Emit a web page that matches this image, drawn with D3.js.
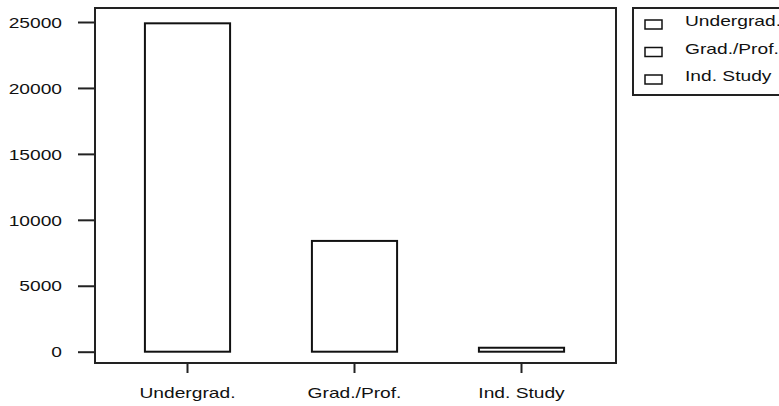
<html>
<head>
  <script src="https://d3js.org/d3.v7.min.js"></script>
  <style>
    body { margin: 0; background: #fff; }
    text { font-family: "Liberation Sans", Arial, sans-serif; font-size: 15px; fill: #111; }
  </style>
</head>
<body>
<svg width=779 height=406></svg>
<script>
const categories = ['Undergrad.', 'Grad./Prof.', 'Ind. Study'];
const values = [24900, 8400, 300];
const yTicks = [0, 5000, 10000, 15000, 20000, 25000];

const svg = d3.select('svg');
const ink = '#222';
const stretch = 'scale(1.28,1)'; // reference font is wide and blocky

// plot frame
const frame = { left: 95, top: 8, right: 616, bottom: 363 };

let x = d3.scaleBand()
  .domain(categories)
  .range([104, 605])
  .paddingInner(0.49)
  .paddingOuter(0.245);

let y = d3.scaleLinear()
  .domain([0, 25000])
  .range([351.7, 22]);

svg.append('rect')
  .attr('x', frame.left).attr('y', frame.top)
  .attr('width', frame.right - frame.left)
  .attr('height', frame.bottom - frame.top)
  .style('fill', 'none').style('stroke', ink).style('stroke-width', 2);

// bars
svg.append('g')
  .selectAll('rect')
  .data(values)
  .join('rect')
  .attr('x', (d, i) => x(categories[i]))
  .attr('y', d => y(d))
  .attr('width', x.bandwidth())
  .attr('height', d => y(0) - y(d))
  .style('fill', 'none')
  .style('stroke', '#111')
  .style('stroke-width', 2);

// y axis, ticks sit left of the frame
let ya = svg.append('g')
  .attr('transform', `translate(${frame.left},0)`)
  .call(d3.axisLeft(y).tickValues(yTicks).tickSize(17).tickFormat(d3.format('d')));
ya.select('.domain').remove();
ya.selectAll('line').style('stroke', ink).style('stroke-width', 2);
ya.selectAll('text')
  .attr('x', 0).attr('dy', null)
  .attr('dominant-baseline', 'central')
  .attr('transform', `translate(-33,0) ${stretch}`);
ya.attr('font-family', null).attr('font-size', null);

// x axis
let xa = svg.append('g')
  .attr('transform', `translate(0,${frame.bottom})`)
  .call(d3.axisBottom(x).tickSize(10).tickPadding(0));
xa.select('.domain').remove();
xa.selectAll('line').style('stroke', ink).style('stroke-width', 2);
xa.selectAll('text')
  .attr('y', 0).attr('dy', null)
  .attr('transform', `translate(0,35) ${stretch}`);
xa.attr('font-family', null).attr('font-size', null);

// legend
let legend = svg.append('g');
legend.append('rect')
  .attr('x', 633).attr('y', 8)
  .attr('width', 160).attr('height', 87)
  .style('fill', 'none').style('stroke', ink).style('stroke-width', 2);

let item = legend.selectAll('g.item')
  .data(categories)
  .join('g')
  .attr('class', 'item')
  .attr('transform', (d, i) => `translate(645,${22 + i * 27.5})`);
item.append('rect')
  .attr('x', 0).attr('y', -2)
  .attr('width', 17).attr('height', 9)
  .style('fill', 'none').style('stroke', '#111').style('stroke-width', 1.5);
item.append('text')
  .attr('transform', `translate(40,-1) ${stretch}`)
  .attr('dominant-baseline', 'central')
  .text(d => d);
</script>
</body>
</html>
